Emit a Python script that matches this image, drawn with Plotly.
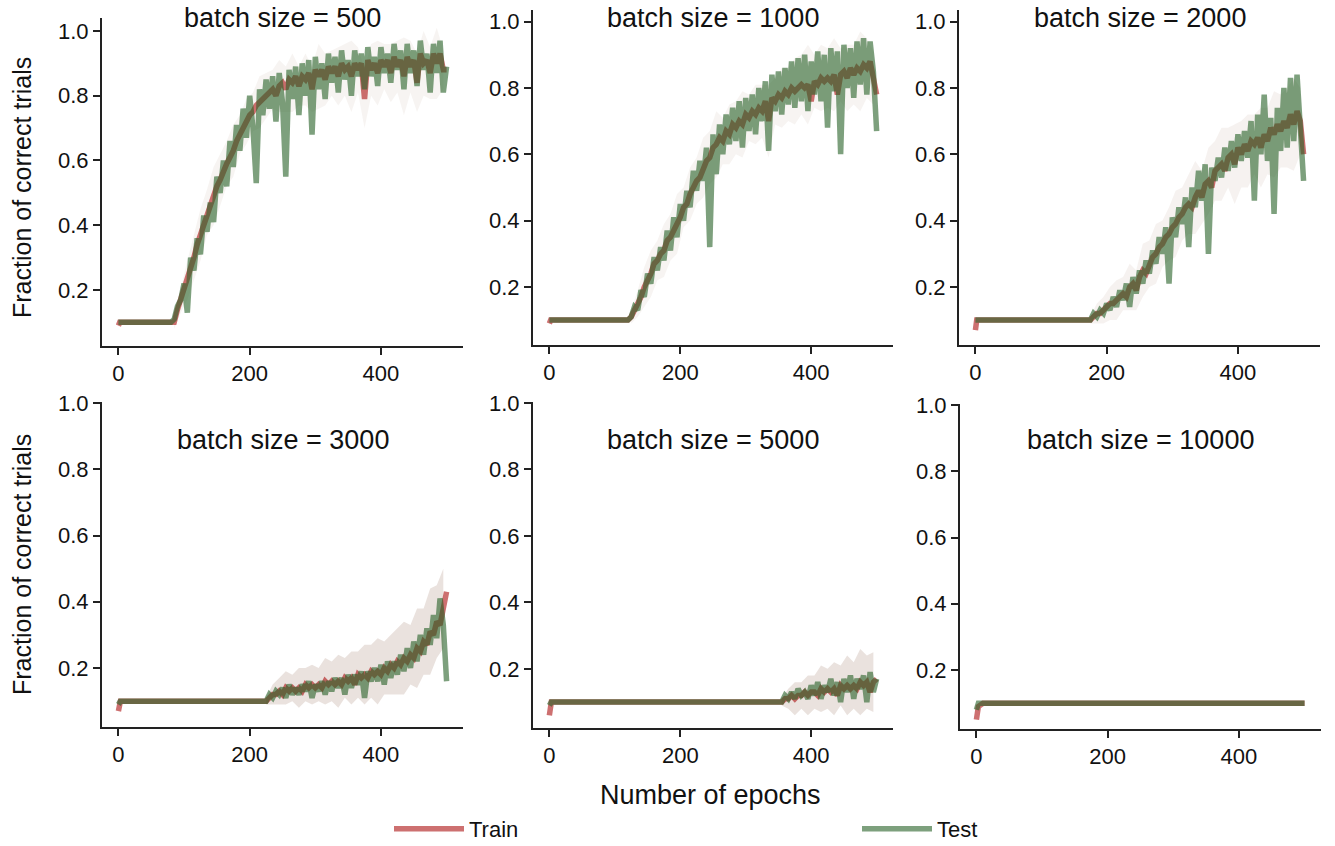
import plotly.graph_objects as go

W, H = 1335, 846
FONT = "Liberation Sans, Arial, sans-serif"

batch_sizes = [500, 1000, 2000, 3000, 5000, 10000]
titles = ["batch size = %d" % b for b in batch_sizes]
y_label = "Fraction of correct trials"
x_label = "Number of epochs"
series_names = ["Train", "Test"]
x_ticks = [0, 200, 400]
y_ticks = [0.2, 0.4, 0.6, 0.8, 1.0]

# ---------------- batch size = 500 ----------------
epochs_500 = [0, 2, 80] + list(range(85, 501, 5))
train_500 = [0.09, 0.10, 0.10,
    0.10, 0.14, 0.17, 0.20, 0.23, 0.27, 0.30, 0.34, 0.37, 0.41,
    0.44, 0.46, 0.49, 0.52, 0.54, 0.57, 0.59, 0.61, 0.63, 0.66,
    0.68, 0.70, 0.72, 0.74, 0.75, 0.77, 0.78, 0.79, 0.80, 0.81,
    0.82, 0.80, 0.83, 0.84, 0.82, 0.85, 0.84, 0.86, 0.83, 0.86,
    0.85, 0.87, 0.82, 0.88, 0.86, 0.88, 0.85, 0.89, 0.87, 0.89,
    0.86, 0.90, 0.88, 0.89, 0.86, 0.90, 0.88, 0.90, 0.79, 0.91,
    0.88, 0.90, 0.87, 0.91, 0.89, 0.91, 0.87, 0.92, 0.89, 0.91,
    0.86, 0.92, 0.89, 0.91, 0.84, 0.93, 0.90, 0.91, 0.87, 0.93,
    0.90, 0.93, 0.88, 0.88]
test_500 = [0.10, 0.10, 0.10,
    0.11, 0.15, 0.17, 0.22, 0.13, 0.30, 0.26, 0.36, 0.31, 0.43,
    0.38, 0.47, 0.41, 0.55, 0.50, 0.60, 0.52, 0.66, 0.58, 0.71,
    0.63, 0.76, 0.67, 0.80, 0.70, 0.53, 0.82, 0.74, 0.85, 0.76,
    0.86, 0.72, 0.87, 0.78, 0.55, 0.88, 0.79, 0.89, 0.74, 0.90,
    0.80, 0.91, 0.68, 0.92, 0.82, 0.90, 0.79, 0.93, 0.84, 0.92,
    0.81, 0.94, 0.85, 0.91, 0.80, 0.94, 0.86, 0.93, 0.82, 0.95,
    0.86, 0.92, 0.83, 0.95, 0.87, 0.93, 0.84, 0.96, 0.88, 0.94,
    0.82, 0.96, 0.87, 0.94, 0.83, 0.97, 0.88, 0.93, 0.81, 0.96,
    0.87, 0.97, 0.81, 0.89]
band_epochs_500 = list(range(85, 500, 10))
spread_500 = [0.02, 0.04, 0.06, 0.07, 0.08, 0.07, 0.09, 0.08, 0.07, 0.08,
    0.06, 0.07, 0.06, 0.08, 0.07, 0.06, 0.08, 0.07, 0.09, 0.06,
    0.08, 0.07, 0.10, 0.08, 0.07, 0.09, 0.08, 0.11, 0.07, 0.09,
    0.08, 0.10, 0.07, 0.09, 0.08, 0.12, 0.08, 0.09, 0.10, 0.08,
    0.11, 0.06]

# ---------------- batch size = 1000 ----------------
epochs_1000 = [0, 2, 120] + list(range(125, 501, 5))
train_1000 = [0.09, 0.10, 0.10,
    0.11, 0.13, 0.15, 0.17, 0.20, 0.22, 0.24, 0.27, 0.28, 0.30,
    0.31, 0.34, 0.35, 0.37, 0.39, 0.41, 0.44, 0.45, 0.48, 0.50,
    0.52, 0.53, 0.56, 0.58, 0.59, 0.62, 0.63, 0.65, 0.64, 0.67,
    0.66, 0.69, 0.68, 0.70, 0.69, 0.72, 0.71, 0.73, 0.72, 0.74,
    0.73, 0.76, 0.70, 0.77, 0.76, 0.78, 0.77, 0.79, 0.78, 0.80,
    0.79, 0.80, 0.81, 0.80, 0.81, 0.76, 0.82, 0.81, 0.83, 0.82,
    0.83, 0.82, 0.84, 0.78, 0.84, 0.85, 0.83, 0.86, 0.84, 0.86,
    0.85, 0.87, 0.86, 0.88, 0.83, 0.78]
test_1000 = [0.10, 0.10, 0.10,
    0.11, 0.14, 0.13, 0.19, 0.17, 0.24, 0.21, 0.29, 0.25, 0.32,
    0.28, 0.37, 0.31, 0.41, 0.35, 0.45, 0.40, 0.49, 0.44, 0.55,
    0.49, 0.58, 0.52, 0.62, 0.32, 0.66, 0.54, 0.69, 0.60, 0.72,
    0.63, 0.74, 0.64, 0.76, 0.62, 0.77, 0.67, 0.78, 0.66, 0.80,
    0.70, 0.82, 0.61, 0.84, 0.73, 0.85, 0.72, 0.86, 0.75, 0.88,
    0.74, 0.89, 0.76, 0.90, 0.73, 0.88, 0.78, 0.91, 0.76, 0.90,
    0.68, 0.92, 0.79, 0.91, 0.60, 0.93, 0.80, 0.92, 0.77, 0.94,
    0.81, 0.95, 0.78, 0.94, 0.85, 0.67]
band_epochs_1000 = list(range(125, 500, 10))
spread_1000 = [0.02, 0.04, 0.06, 0.07, 0.06, 0.08, 0.07, 0.09, 0.06, 0.08,
    0.07, 0.09, 0.08, 0.10, 0.07, 0.09, 0.08, 0.10, 0.07, 0.09,
    0.08, 0.11, 0.07, 0.09, 0.08, 0.10, 0.09, 0.12, 0.08, 0.10,
    0.09, 0.11, 0.08, 0.10, 0.09, 0.12, 0.09, 0.08]

# ---------------- batch size = 2000 ----------------
epochs_2000 = [0, 2, 170] + list(range(175, 501, 5))
train_2000 = [0.07, 0.10, 0.10,
    0.10, 0.11, 0.12, 0.12, 0.13, 0.14, 0.15, 0.15, 0.16, 0.17,
    0.18, 0.17, 0.20, 0.21, 0.19, 0.23, 0.25, 0.24, 0.27, 0.29,
    0.30, 0.32, 0.33, 0.35, 0.36, 0.38, 0.39, 0.41, 0.42, 0.44,
    0.45, 0.44, 0.47, 0.49, 0.47, 0.51, 0.52, 0.50, 0.55, 0.56,
    0.57, 0.55, 0.59, 0.60, 0.57, 0.62, 0.60, 0.63, 0.61, 0.64,
    0.63, 0.65, 0.62, 0.66, 0.64, 0.68, 0.66, 0.69, 0.67, 0.70,
    0.68, 0.72, 0.69, 0.73, 0.70, 0.60]
test_2000 = [0.10, 0.10, 0.10,
    0.10, 0.12, 0.11, 0.13, 0.12, 0.15, 0.13, 0.17, 0.14, 0.19,
    0.16, 0.21, 0.14, 0.23, 0.18, 0.25, 0.21, 0.28, 0.24, 0.31,
    0.27, 0.35, 0.30, 0.38, 0.21, 0.41, 0.35, 0.44, 0.39, 0.47,
    0.32, 0.50, 0.44, 0.55, 0.46, 0.57, 0.30, 0.56, 0.52, 0.59,
    0.53, 0.62, 0.55, 0.64, 0.56, 0.66, 0.58, 0.67, 0.59, 0.70,
    0.46, 0.72, 0.60, 0.78, 0.58, 0.71, 0.42, 0.74, 0.61, 0.80,
    0.62, 0.83, 0.64, 0.84, 0.70, 0.52]
band_epochs_2000 = list(range(175, 500, 10))
spread_2000 = [0.01, 0.03, 0.04, 0.05, 0.06, 0.05, 0.07, 0.06, 0.08, 0.07,
    0.09, 0.07, 0.08, 0.10, 0.08, 0.09, 0.11, 0.08, 0.10, 0.09,
    0.11, 0.09, 0.12, 0.10, 0.11, 0.09, 0.12, 0.10, 0.13, 0.11,
    0.12, 0.14, 0.10]

# ---------------- batch size = 3000 ----------------
epochs_3000 = [0, 3, 8, 220] + list(range(225, 501, 5))
train_3000 = [0.07, 0.10, 0.10, 0.10,
    0.10, 0.11, 0.12, 0.12, 0.13, 0.12, 0.14, 0.13, 0.14, 0.13,
    0.14, 0.13, 0.15, 0.14, 0.15, 0.14, 0.15, 0.14, 0.16, 0.15,
    0.16, 0.15, 0.16, 0.15, 0.17, 0.16, 0.17, 0.15, 0.18, 0.17,
    0.18, 0.17, 0.19, 0.18, 0.19, 0.18, 0.20, 0.19, 0.21, 0.20,
    0.22, 0.21, 0.23, 0.22, 0.24, 0.23, 0.26, 0.25, 0.28, 0.27,
    0.31, 0.30, 0.34, 0.33, 0.38, 0.43]
test_3000 = [0.09, 0.10, 0.10, 0.10,
    0.10, 0.12, 0.11, 0.13, 0.12, 0.14, 0.11, 0.15, 0.12, 0.14,
    0.12, 0.15, 0.13, 0.16, 0.11, 0.15, 0.13, 0.16, 0.12, 0.16,
    0.13, 0.17, 0.14, 0.17, 0.12, 0.18, 0.14, 0.18, 0.15, 0.19,
    0.11, 0.19, 0.16, 0.20, 0.16, 0.21, 0.15, 0.22, 0.17, 0.22,
    0.18, 0.24, 0.19, 0.26, 0.20, 0.28, 0.22, 0.30, 0.24, 0.32,
    0.27, 0.36, 0.29, 0.41, 0.33, 0.16]
band_epochs_3000 = list(range(225, 500, 10))
spread_3000 = [0.01, 0.03, 0.04, 0.05, 0.04, 0.06, 0.05, 0.06, 0.05, 0.07,
    0.06, 0.08, 0.06, 0.08, 0.07, 0.09, 0.08, 0.10, 0.08, 0.09,
    0.10, 0.11, 0.09, 0.12, 0.10, 0.13, 0.11, 0.12]

# ---------------- batch size = 5000 ----------------
epochs_5000 = [0, 3, 8, 350] + list(range(355, 501, 5))
train_5000 = [0.06, 0.10, 0.10, 0.10,
    0.10, 0.11, 0.11, 0.12, 0.11, 0.12, 0.12, 0.13, 0.12, 0.13,
    0.13, 0.12, 0.14, 0.13, 0.14, 0.13, 0.14, 0.12, 0.15, 0.14,
    0.15, 0.14, 0.15, 0.14, 0.16, 0.15, 0.16, 0.13, 0.16, 0.17]
test_5000 = [0.09, 0.10, 0.10, 0.10,
    0.10, 0.12, 0.11, 0.13, 0.11, 0.14, 0.12, 0.13, 0.11, 0.15,
    0.12, 0.16, 0.11, 0.15, 0.13, 0.17, 0.12, 0.16, 0.10, 0.17,
    0.13, 0.18, 0.11, 0.17, 0.14, 0.18, 0.10, 0.19, 0.13, 0.17]
band_epochs_5000 = list(range(355, 500, 10))
spread_5000 = [0.01, 0.03, 0.05, 0.04, 0.06, 0.05, 0.07, 0.06, 0.08, 0.06,
    0.09, 0.07, 0.10, 0.08, 0.09]

# ---------------- batch size = 10000 ----------------
epochs_10000 = [0, 3, 10, 500]
train_10000 = [0.05, 0.09, 0.10, 0.10]
test_10000 = [0.08, 0.10, 0.10, 0.10]
band_epochs_10000 = []
spread_10000 = []

panels = [
    (epochs_500, train_500, test_500, band_epochs_500, spread_500),
    (epochs_1000, train_1000, test_1000, band_epochs_1000, spread_1000),
    (epochs_2000, train_2000, test_2000, band_epochs_2000, spread_2000),
    (epochs_3000, train_3000, test_3000, band_epochs_3000, spread_3000),
    (epochs_5000, train_5000, test_5000, band_epochs_5000, spread_5000),
    (epochs_10000, train_10000, test_10000, band_epochs_10000, spread_10000),
]

# ---------------- layout geometry (pixels) ----------------
boxes = [
    (102, 463, 18, 346),
    (533, 893, 10, 345),
    (959, 1320, 10, 345),
    (102, 463, 402, 727),
    (533, 893, 402, 728),
    (960, 1321, 404, 729),
]
y_ranges = [
    (0.027, 1.040),
    (0.025, 1.035),
    (0.025, 1.035),
    (0.022, 1.003),
    (0.022, 1.003),
    (0.022, 1.003),
]
title_y = [18, 18, 18, 440, 440, 440]
band_alpha = [0.08, 0.08, 0.09, 0.2, 0.2, 0.0]

RED = "rgba(172,17,17,0.6)"
GREEN = "rgba(38,97,38,0.6)"
AX = "#222222"

fig = go.Figure()

for i, (ep, tr, te, bep, spr) in enumerate(panels):
    sfx = "" if i == 0 else str(i + 1)
    xa, ya = "x" + sfx, "y" + sfx
    if bep:
        lookup = dict(zip(ep, tr))
        upper = [lookup[e] + s for e, s in zip(bep, spr)]
        lower = [lookup[e] - s for e, s in zip(bep, spr)]
        fig.add_trace(go.Scatter(
            x=bep + bep[::-1], y=upper + lower[::-1],
            fill="toself", fillcolor="rgba(150,110,90,%.2f)" % band_alpha[i],
            line=dict(width=0), mode="lines", hoverinfo="skip",
            showlegend=False, xaxis=xa, yaxis=ya))
    fig.add_trace(go.Scatter(
        x=ep, y=tr, mode="lines", name=series_names[0],
        line=dict(color=RED, width=5.5),
        showlegend=(i == 0), legend="legend",
        xaxis=xa, yaxis=ya))
    fig.add_trace(go.Scatter(
        x=ep, y=te, mode="lines", name=series_names[1],
        line=dict(color=GREEN, width=5.5),
        showlegend=(i == 0), legend="legend2",
        xaxis=xa, yaxis=ya))

legend_common = dict(orientation="h", xanchor="left", yanchor="middle",
                     y=1 - 829 / H, itemwidth=70,
                     font=dict(size=22, family=FONT, color="#111111"),
                     bgcolor="rgba(0,0,0,0)", borderwidth=0)

layout = dict(
    width=W, height=H,
    margin=dict(l=0, r=0, t=0, b=0, autoexpand=False),
    paper_bgcolor="white", plot_bgcolor="white",
    font=dict(family=FONT, color="#111111", size=22),
    showlegend=True,
    legend=dict(x=389 / W, **legend_common),
    legend2=dict(x=857 / W, **legend_common),
)

annotations = []
for i, (l, r, t, b) in enumerate(boxes):
    sfx = "" if i == 0 else str(i + 1)
    layout["xaxis" + sfx] = dict(
        domain=[l / W, r / W], anchor="y" + sfx, range=[-25, 525],
        tickvals=x_ticks, showline=True, linecolor=AX, linewidth=2,
        ticks="outside", ticklen=7, tickwidth=2, tickcolor=AX,
        showgrid=False, zeroline=False,
        tickfont=dict(size=22, family=FONT, color="#111111"))
    layout["yaxis" + sfx] = dict(
        domain=[1 - b / H, 1 - t / H], anchor="x" + sfx, range=list(y_ranges[i]),
        tickvals=y_ticks, tickformat=".1f", showline=True, linecolor=AX, linewidth=2,
        ticks="outside", ticklen=7, tickwidth=2, tickcolor=AX,
        showgrid=False, zeroline=False,
        tickfont=dict(size=22, family=FONT, color="#111111"))
    annotations.append(dict(
        text=titles[i], x=(l + r) / 2 / W, y=1 - title_y[i] / H,
        xref="paper", yref="paper", xanchor="center", yanchor="middle",
        showarrow=False, font=dict(size=27, family=FONT, color="#111111")))

for yc in (188, 565):
    annotations.append(dict(
        text=y_label, x=22 / W, y=1 - yc / H, xref="paper", yref="paper",
        xanchor="center", yanchor="middle", textangle=-90, showarrow=False,
        font=dict(size=25, family=FONT, color="#111111")))

annotations.append(dict(
    text=x_label, x=710 / W, y=1 - 795 / H, xref="paper", yref="paper",
    xanchor="center", yanchor="middle", showarrow=False,
    font=dict(size=27, family=FONT, color="#111111")))

layout["annotations"] = annotations
fig.update_layout(**layout)

fig.write_html("out.html",
               config={"displayModeBar": False},
               post_script="document.body.style.margin='0';document.body.style.overflow='hidden';")
